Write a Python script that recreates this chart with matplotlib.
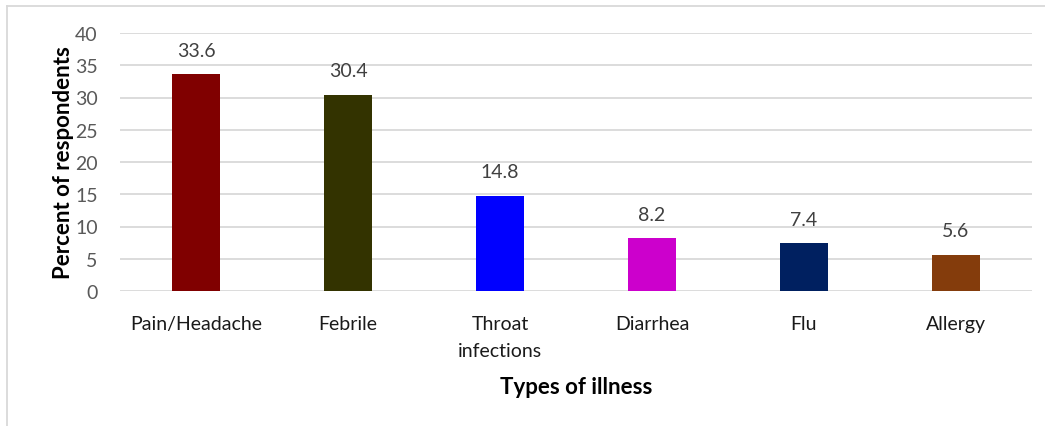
import matplotlib.pyplot as plt
from matplotlib.lines import Line2D

illnesses = ["Pain/Headache", "Febrile", "Throat\ninfections", "Diarrhea", "Flu", "Allergy"]
percents = [33.6, 30.4, 14.8, 8.2, 7.4, 5.6]
bar_colors = ["#800000", "#333300", "#0000FF", "#CC00CC", "#002060", "#843C0C"]
y_ticks = [0, 5, 10, 15, 20, 25, 30, 35, 40]

plt.rcParams["font.family"] = ["Lato", "DejaVu Sans"]

W, H = 1045, 427
fig = plt.figure(figsize=(W / 100, H / 100), dpi=100)
ax = fig.add_axes([120 / W, 1 - 292 / H, 912 / W, 258 / H])

x = range(len(illnesses))
ax.bar(x, percents, width=0.316, color=bar_colors, zorder=3)
for xi, v in zip(x, percents):
    ax.text(xi, v + 2.4, f"{v:.1f}", ha="center", va="bottom",
            fontsize=14, color="#404040")

ax.set_xlim(-0.5, len(illnesses) - 0.5)
ax.set_ylim(0, 40)
ax.set_yticks(y_ticks)
ax.yaxis.grid(True, color="#D9D9D9", linewidth=1.3, zorder=0)
ax.set_axisbelow(True)
for s in ax.spines.values():
    s.set_visible(False)
ax.tick_params(axis="both", length=0)
ax.tick_params(axis="y", labelsize=14, labelcolor="#595959", pad=16)
ax.set_xticks(list(x))
ax.set_xticklabels(illnesses, fontsize=14, color="#1a1a1a", linespacing=1.75, va="top")
ax.tick_params(axis="x", pad=17)

ax.set_ylabel("Percent of respondents", fontsize=16, fontweight="bold", labelpad=1)
ax.set_xlabel("Types of illness", fontsize=16, fontweight="bold", labelpad=12)

# chart border: only top and left visible in the crop
fig.add_artist(Line2D([6.5 / W, 1], [1 - 6.5 / H, 1 - 6.5 / H], color="#D9D9D9", lw=1.3))
fig.add_artist(Line2D([6.5 / W, 6.5 / W], [0, 1 - 6.5 / H], color="#D9D9D9", lw=1.3))

fig.savefig("out.png", dpi=100)
